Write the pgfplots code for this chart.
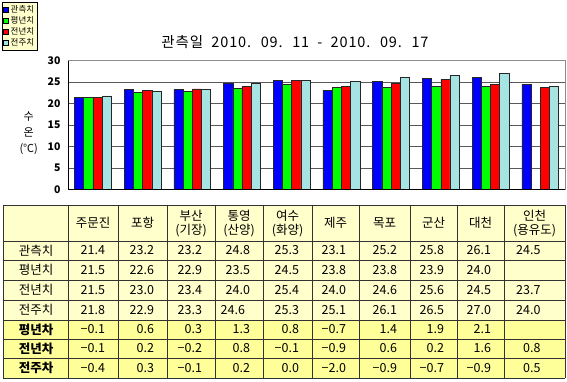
\documentclass[border=0pt]{standalone}
\usepackage{pgfplots}
\pgfplotsset{compat=1.18}
\usepackage{fontspec}
\setmainfont{Noto Sans CJK KR}
\newfontfamily\titlefont[LetterSpace=6,WordSpace=2]{Noto Sans CJK KR}
\definecolor{cBlue}{HTML}{0000FF}
\definecolor{cGreen}{HTML}{00FF00}
\definecolor{cRed}{HTML}{FF0000}
\definecolor{cCyan}{HTML}{A6E3E3}
\definecolor{tabBg}{HTML}{FFFFCC}
\definecolor{tabBgB}{HTML}{FFFF99}
\newcommand\tf{\fontsize{12.5}{13}\selectfont}
\begin{document}
\begin{tikzpicture}
\useasboundingbox (0,0) rectangle (567pt,381pt);
\begin{axis}[
  at={(68pt,191.5pt)}, anchor=south west,
  scale only axis, width=497pt, height=129pt,
  ybar=0pt, bar width=9.2pt,
  xmin=-0.5, xmax=9.5, ymin=0, ymax=30,
  xtick=\empty, ytick={0,5,...,30},
  ymajorgrids, grid style={black!65, line width=0.6pt},
  axis line style={black!45, line width=0.6pt},
  major tick length=0pt,
  /pgf/number format/assume math mode=true,
  yticklabel style={font=\fontsize{10.5}{11}\selectfont\bfseries, xshift=-4pt},
  ylabel={수\\온\\(℃)},
  ylabel style={rotate=-90, align=center, font=\fontsize{11}{16}\selectfont, at={(-0.079,0.44)}, anchor=center},
  title={\titlefont 관측일 2010. 09. 11 - 2010. 09. 17},
  title style={font=\fontsize{14.5}{15}\selectfont, at={(0.4567,1.097)}, anchor=center},
  legend style={at={(-0.1328,1.4535)}, anchor=north west, fill=tabBg, draw=black,
    font=\fontsize{8.5}{9}\selectfont, inner sep=1pt, row sep=-1.5pt,
    /tikz/every even column/.append style={column sep=1pt}},
  legend cell align=left,
  legend image code/.code={\draw[#1, draw=black, line width=0.5pt] (0pt,-2.5pt) rectangle (5pt,2.5pt);},
  every axis plot/.append style={draw=black!85, line width=0.5pt},
]
\addplot[fill=cBlue] coordinates {(0,21.4) (1,23.2) (2,23.2) (3,24.8) (4,25.3) (5,23.1) (6,25.2) (7,25.8) (8,26.1) (9,24.5)};
\addplot[fill=cGreen] coordinates {(0,21.5) (1,22.6) (2,22.9) (3,23.5) (4,24.5) (5,23.8) (6,23.8) (7,23.9) (8,24.0)};
\addplot[fill=cRed] coordinates {(0,21.5) (1,23.0) (2,23.4) (3,24.0) (4,25.4) (5,24.0) (6,24.6) (7,25.6) (8,24.5) (9,23.7)};
\addplot[fill=cCyan] coordinates {(0,21.8) (1,22.9) (2,23.3) (3,24.6) (4,25.3) (5,25.1) (6,26.1) (7,26.5) (8,27.0) (9,24.0)};
\legend{관측치,평년치,전년치,전주치}
\draw[black, line width=0.7pt] (rel axis cs:0,1) -- (rel axis cs:0,0) -- (rel axis cs:1,0);
\end{axis}
\begin{scope}[yshift=381pt, x=1pt, y=-1pt]
\fill[tabBg] (3,205) rectangle (565,320);
\fill[tabBgB] (3,320) rectangle (565,378);
\foreach \yy in {205,241,260,280,300,320,339,358,378}
  \draw[black!80, line width=0.7pt] (3,\yy) -- (565,\yy);
\foreach \xx in {3,68,118,167,215,263,312,359,410,457,504,565}
  \draw[black!80, line width=0.7pt] (\xx,205) -- (\xx,378);
% headers
\foreach \cx/\t in {93/주문진, 142.5/포항, 335.5/제주, 384.5/목포, 433.5/군산, 480.5/대천}
  \node[font=\tf] at (\cx,223) {\t};
\foreach \cx/\ta/\tb in {191/부산/(기장), 239/통영/(산양), 287.5/여수/(화양), 534.5/인천/(용유도)}
  {\node[font=\tf] at (\cx,215.5) {\ta};
   \node[font=\tf] at (\cx,230.5) {\tb};}
% row labels
\foreach \ry/\t in {250.5/관측치, 270/평년치, 290/전년치, 310/전주치}
  \node[font=\tf] at (36,\ry) {\t};
\foreach \ry/\t in {329.5/평년차, 348.5/전년차, 368/전주차}
  \node[font=\tf\bfseries] at (36,\ry) {\t};
% values
\foreach \xr/\v in {108.5/21.4, 157.5/23.2, 205.5/23.2, 253.5/24.8, 302.5/25.3, 349.5/23.1, 400.5/25.2, 447.5/25.8, 494.5/26.1, 544/24.5}
  \node[font=\tf, anchor=east] at (\xr,250.5) {\v};
\foreach \xr/\v in {108.5/21.5, 157.5/22.6, 205.5/22.9, 253.5/23.5, 302.5/24.5, 349.5/23.8, 400.5/23.8, 447.5/23.9, 494.5/24.0}
  \node[font=\tf, anchor=east] at (\xr,270) {\v};
\foreach \xr/\v in {108.5/21.5, 157.5/23.0, 205.5/23.4, 253.5/24.0, 302.5/25.4, 349.5/24.0, 400.5/24.6, 447.5/25.6, 494.5/24.5, 544/23.7}
  \node[font=\tf, anchor=east] at (\xr,290) {\v};
\foreach \xr/\v in {108.5/21.8, 157.5/22.9, 205.5/23.3, 248.5/24.6, 302.5/25.3, 349.5/25.1, 400.5/26.1, 447.5/26.5, 494.5/27.0, 544/24.0}
  \node[font=\tf, anchor=east] at (\xr,310) {\v};
\foreach \xr/\v in {108.5/−0.1, 157.5/0.6, 205.5/0.3, 253.5/1.3, 302.5/0.8, 349.5/−0.7, 400.5/1.4, 447.5/1.9, 494.5/2.1}
  \node[font=\tf, anchor=east] at (\xr,329.5) {\v};
\foreach \xr/\v in {108.5/−0.1, 157.5/0.2, 205.5/−0.2, 253.5/0.8, 302.5/−0.1, 349.5/−0.9, 400.5/0.6, 447.5/0.2, 494.5/1.6, 544/0.8}
  \node[font=\tf, anchor=east] at (\xr,348.5) {\v};
\foreach \xr/\v in {108.5/−0.4, 157.5/0.3, 205.5/−0.1, 253.5/0.2, 302.5/0.0, 349.5/−2.0, 400.5/−0.9, 447.5/−0.7, 494.5/−0.9, 544/0.5}
  \node[font=\tf, anchor=east] at (\xr,368) {\v};
\end{scope}
\end{tikzpicture}
\end{document}
